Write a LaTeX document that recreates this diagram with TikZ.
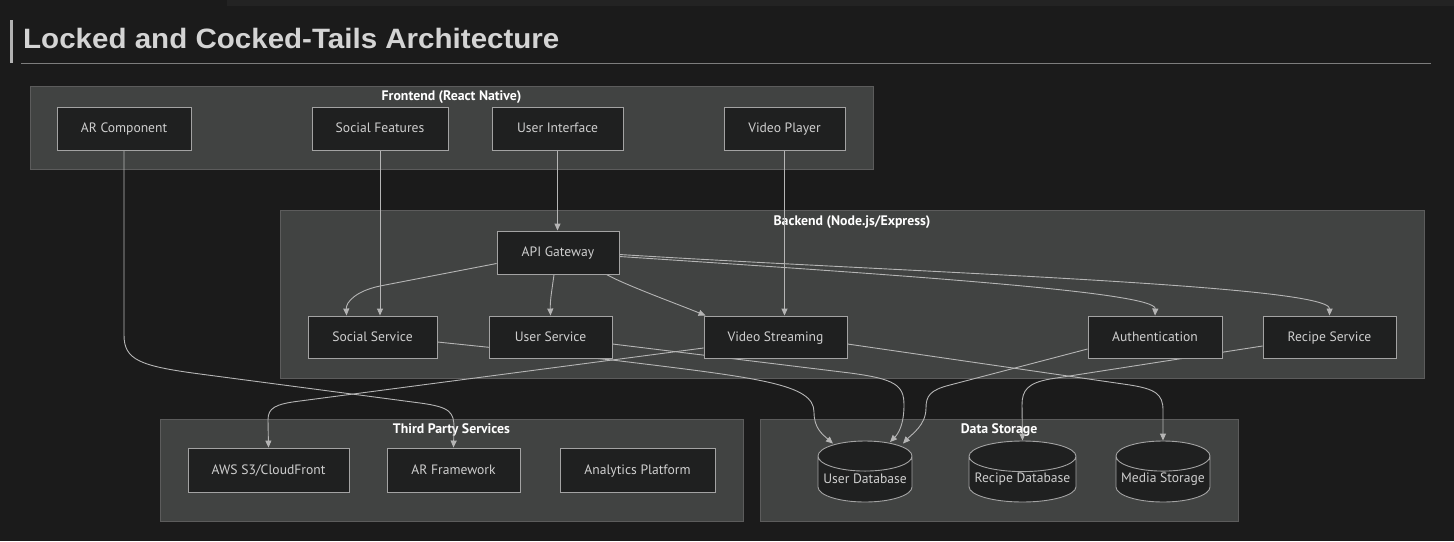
\documentclass[tikz,border=0pt]{standalone}
\usepackage{fontspec}
\setmainfont{PT Sans}
\newfontfamily\titlefont{Liberation Sans}
\usetikzlibrary{arrows.meta,shapes.geometric}

\definecolor{bgcol}{HTML}{1B1B1B}
\definecolor{stripcol}{HTML}{232323}
\definecolor{groupfill}{HTML}{414342}
\definecolor{groupline}{HTML}{5C5C5C}
\definecolor{boxfill}{HTML}{1F2020}
\definecolor{boxline}{HTML}{A3A3A3}
\definecolor{boxtext}{HTML}{CFCFCF}
\definecolor{linkcol}{HTML}{B5B5B5}
\definecolor{titlecol}{HTML}{D4D4D4}

\pgfdeclarelayer{groups}
\pgfdeclarelayer{links}
\pgfsetlayers{groups,links,main}

\tikzset{
  svc/.style={draw=boxline, fill=boxfill, text=boxtext, line width=0.9pt,
    font=\fontsize{13.6}{16}\selectfont, minimum height=43pt, inner sep=0pt,
    text height=12pt, text depth=3.4pt},
  store/.style={cylinder, shape border rotate=90, shape aspect=0.36,
    draw=boxline, fill=boxfill, text=boxtext, line width=0.9pt,
    font=\fontsize{13.6}{16}\selectfont, minimum width=94pt, minimum height=61pt,
    inner sep=0pt, anchor=shape center},
  group/.style={draw=groupline, fill=groupfill, line width=0.9pt},
  grouplabel/.style={text=white, font=\bfseries\fontsize{13.8}{15}\selectfont,
    inner sep=0pt, anchor=base},
  link/.style={draw=linkcol, line width=0.9pt, -{Triangle[length=7pt,width=6pt]}},
}

\begin{document}
\begin{tikzpicture}[x=1pt,y=-1pt]
  \useasboundingbox (0,0) rectangle (1454,541);

  % groups
  \begin{pgfonlayer}{groups}
    \fill[bgcol] (0,0) rectangle (1454,541);
    \fill[stripcol] (227,0) rectangle (1454,6);
    \draw[group] (30,86) rectangle (873,169);
    \node[grouplabel] (frontlbl) at (451.5,100.5) {Frontend (React Native)};
    \draw[group] (280,210) rectangle (1424,378);
    \node[grouplabel] (backlbl) at (852,225) {Backend (Node.js/Express)};
    \draw[group] (160,419) rectangle (743,521);
    \node[grouplabel] (thirdlbl) at (451.5,433) {Third Party Services};
    \draw[group] (760,419) rectangle (1238,521);
    \node[grouplabel] (datalbl) at (999,433) {Data Storage};
  \end{pgfonlayer}

  % title
  \fill[gray!60] (10,20) rectangle (12.5,62.5);
  \draw[groupline!80] (21,63.5) -- (1431,63.5);
  \node[anchor=base west, inner sep=0pt, text=titlecol,
    font=\titlefont\bfseries\fontsize{28}{30}\selectfont] (title) at (23,48)
    {\scalebox{1.055}[1]{Locked and Cocked-Tails Architecture}};

  % frontend
  \node[svc, minimum width=134pt] (arc) at (124,128.5) {AR Component};
  \node[svc, minimum width=136pt] (sf) at (380,128.5) {Social Features};
  \node[svc, minimum width=131pt] (ui) at (557.5,128.5) {User Interface};
  \node[svc, minimum width=121pt] (vp) at (784.5,128.5) {Video Player};

  % backend
  \node[svc, minimum width=122pt] (gw) at (558,252.5) {API Gateway};
  \node[svc, minimum width=129pt, minimum height=42pt] (ss) at (372.5,337) {Social Service};
  \node[svc, minimum width=123pt, minimum height=42pt] (us) at (550.5,337) {User Service};
  \node[svc, minimum width=143pt, minimum height=42pt] (vs) at (775.5,337) {Video Streaming};
  \node[svc, minimum width=134pt, minimum height=42pt] (auth) at (1155,337) {Authentication};
  \node[svc, minimum width=133pt, minimum height=42pt] (rs) at (1329.5,337) {Recipe Service};

  % third party
  \node[svc, minimum width=161pt, minimum height=44pt] (aws) at (268.5,470) {AWS S3/CloudFront};
  \node[svc, minimum width=133pt, minimum height=44pt] (arf) at (453.5,470) {AR Framework};
  \node[svc, minimum width=155pt, minimum height=44pt] (ap) at (637.5,470) {Analytics Platform};

  % data storage
  \node[store] (udb) at (865,471.5) {User Database};
  \node[store, minimum width=107pt, shape aspect=0.32] (rdb) at (1022.5,471.5) {Recipe Database};
  \node[store] (ms) at (1163,471.5) {Media Storage};

  \begin{pgfonlayer}{links}
    \draw[link] (arc.south) -- (124,335) .. controls (124,360) and (140,366) .. (200,374)
      -- (420,403) .. controls (450,407) and (454,412) .. (454,428) -- (arf.north);
    \draw[link] (sf.south) -- (sf.south |- ss.north);
    \draw[link] (ui.south) -- (ui.south |- gw.north);
    \draw[link] (vp.south) -- (vp.south |- vs.north);

    \draw[link] ([yshift=-11pt]gw.west) -- (380,286) .. controls (356,291) and (346,302) .. ([xshift=-26pt]ss.north);
    \draw[link] ([xshift=-4pt]gw.south) .. controls (552,290) and (550,300) .. (us.north);
    \draw[link] ([xshift=-13pt]gw.south east) .. controls (625,285) and (680,305) .. ([xshift=2pt]vs.north west);
    \draw[link] ([yshift=-4pt]gw.east) .. controls (900,275) and (1156,292) .. (auth.north);
    \draw[link] ([yshift=-2pt]gw.east) .. controls (900,272) and (1330,285) .. (rs.north);

    \draw[link] ([yshift=-5pt]ss.east) -- (612,360) .. controls (760,378) and (814,384) .. (814,412)
      .. controls (814,428) and (822,434) .. ([xshift=-32pt,yshift=-3pt]udb.north);
    \draw[link] ([yshift=-7pt]us.east) -- (850,373) .. controls (895,379) and (904,385) .. (904,405)
      .. controls (904,425) and (898,434) .. ([xshift=25pt,yshift=-1.5pt]udb.north);
    \draw[link] ([yshift=-11pt]vs.west) -- (300,401) .. controls (275,404) and (268,408) .. (268,420) -- (aws.north);
    \draw[link] ([yshift=-7pt]vs.east) -- (1130,385) .. controls (1155,389) and (1163,394) .. (1163,410) -- (ms.north);
    \draw[link] ([yshift=-12pt]auth.west) -- (950,385) .. controls (930,390) and (926,396) .. (926,408)
      .. controls (926,425) and (912,434) .. ([xshift=38pt,yshift=-3pt]udb.north);
    \draw[link] ([yshift=-9pt]rs.west) -- (1050,379) .. controls (1028,383) and (1022,390) .. (1022,405) -- (rdb.north);
  \end{pgfonlayer}
\end{tikzpicture}
\end{document}
